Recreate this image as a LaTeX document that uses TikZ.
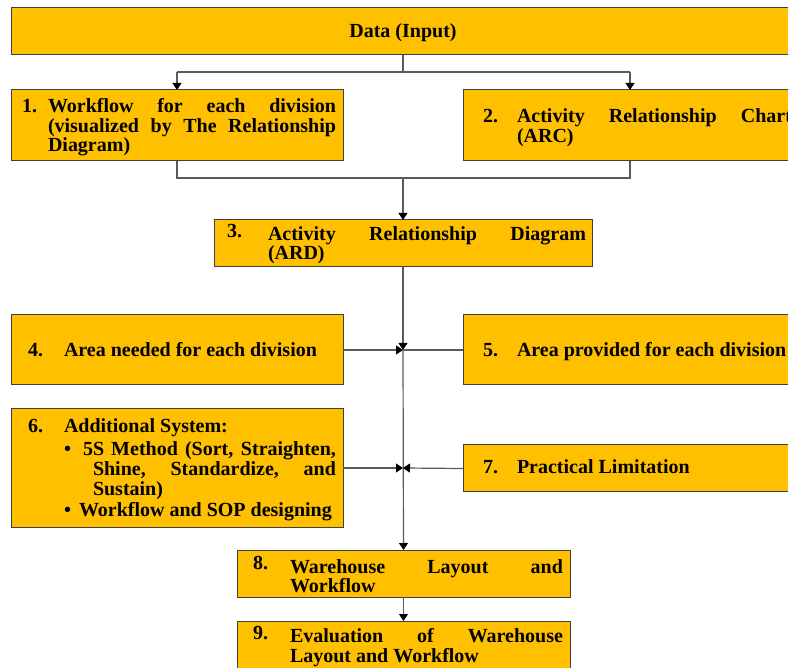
\documentclass[tikz,border=0pt]{standalone}
\usepackage{fontspec}
\setmainfont{Liberation Serif}
\usetikzlibrary{arrows.meta}
\definecolor{boxfill}{HTML}{FFC000}
\definecolor{linegray}{HTML}{5A5A5A}
\definecolor{boxline}{HTML}{404040}
\tikzset{
  box/.style={draw=boxline, line width=1pt, fill=boxfill, inner sep=0pt, outer sep=0pt, anchor=north west},
  txt/.style={anchor=base west, inner sep=0pt, outer sep=0pt, font=\fontsize{20}{20}\selectfont\bfseries},
  conn/.style={draw=linegray, line width=1.2pt},
  arr/.style={conn, -{Triangle[width=9pt,length=7pt,color=black]}},
}
\begin{document}
\begin{tikzpicture}[x=1pt,y=-1pt]
\useasboundingbox (0,0) rectangle (788,668);
\clip (0,0) rectangle (788,668);
% boxes
\node[box, minimum width=784pt, minimum height=47pt] (data) at (11,8) {};
\node[box, minimum width=332pt, minimum height=71pt] (b1) at (11,90) {};
\node[box, minimum width=334pt, minimum height=71pt] (b2) at (463,90) {};
\node[box, minimum width=378pt, minimum height=47pt] (b3) at (214,220) {};
\node[box, minimum width=332pt, minimum height=70pt] (b4) at (11,315) {};
\node[box, minimum width=334pt, minimum height=70pt] (b5) at (463,315) {};
\node[box, minimum width=332pt, minimum height=118pt] (b6) at (11,409) {};
\node[box, minimum width=334pt, minimum height=47pt] (b7) at (463,445) {};
\node[box, minimum width=333pt, minimum height=47pt] (b8) at (237,550) {};
\node[box, minimum width=333pt, minimum height=60pt] (b9) at (237,621) {};
% texts
\node[txt, anchor=base] (tdata) at (403,37.5) {Data (Input)};
\node[txt] (n1) at (22,113) {1.};
\node[txt] (t1a) at (48,113) {\makebox[288pt][s]{Workflow for each division}};
\node[txt] (t1b) at (48,132.5) {\makebox[288pt][s]{(visualized by The Relationship}};
\node[txt] (t1c) at (48,152) {Diagram)};
\node[txt] (n2) at (483,123) {2.};
\node[txt] (t2a) at (517,123) {\makebox[275pt][s]{Activity Relationship Chart}};
\node[txt] (t2b) at (517,142.5) {(ARC)};
\node[txt] (n3) at (227,238) {3.};
\node[txt] (t3a) at (268,241) {\makebox[318pt][s]{Activity Relationship Diagram}};
\node[txt] (t3b) at (268,260) {(ARD)};
\node[txt] (n4) at (28,357) {4.};
\node[txt] (t4) at (64,357) {Area needed for each division};
\node[txt] (n5) at (483,357) {5.};
\node[txt] (t5) at (517,357) {Area provided for each division};
\node[txt] (n6) at (28,433) {6.};
\node[txt] (t6a) at (64,433) {Additional System:};
\node[txt] (bu1) at (64,456) {\textbullet};
\node[txt] (t6b) at (83,456) {\makebox[253pt][s]{5S Method (Sort, Straighten,}};
\node[txt] (t6c) at (93,476) {\makebox[243pt][s]{Shine, Standardize, and}};
\node[txt] (t6d) at (93,495.5) {Sustain)};
\node[txt] (bu2) at (64,516) {\textbullet};
\node[txt] (t6e) at (79,516) {Workflow and SOP designing};
\node[txt] (n7) at (483,474) {7.};
\node[txt] (t7) at (517,474) {Practical Limitation};
\node[txt] (n8) at (253,569.5) {8.};
\node[txt] (t8a) at (290,573) {\makebox[273pt][s]{Warehouse Layout and}};
\node[txt] (t8b) at (290,592) {Workflow};
\node[txt] (n9) at (253,639) {9.};
\node[txt] (t9a) at (290,642.5) {\makebox[273pt][s]{Evaluation of Warehouse}};
\node[txt] (t9b) at (290,662) {Layout and Workflow};
% junctions
\coordinate (j1) at (403,72);
\coordinate (j2) at (403,178);
\coordinate (j4) at (403,350);
\coordinate (j6) at (403,468);
% connectors
\draw[conn] (data.south) -- (j1);
\draw[conn] (b1.north |- j1) -- (b2.north |- j1);
\draw[arr] (b1.north |- j1) -- (b1.north);
\draw[arr] (b2.north |- j1) -- (b2.north);
\draw[conn] (b1.south) -- (b1.south |- j2) -- (b2.south |- j2) -- (b2.south);
\draw[arr] (j2) -- (b3.north);
\draw[arr] (b3.south) -- (j4);
\draw[arr] (j4) -- (b8.north);
\draw[arr] (b4.east) -- (j4);
\draw[conn] (b5.west) -- (j4);
\draw[arr] (b6.east) -- (j6);
\draw[arr] (b7.west) -- (j6);
\draw[arr] (b8.south) -- (b9.north);
\end{tikzpicture}
\end{document}
